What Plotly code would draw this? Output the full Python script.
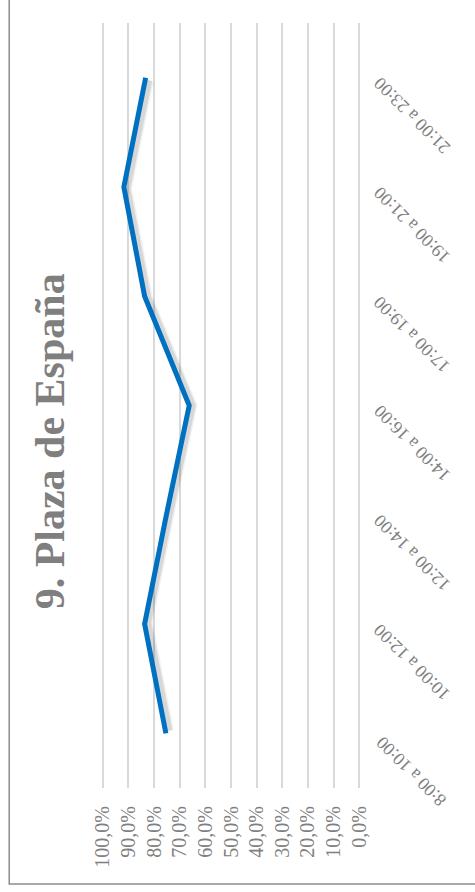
import plotly.graph_objects as go

categories = ["8:00 a 10:00", "10:00 a 12:00", "12:00 a 14:00", "14:00 a 16:00",
              "17:00 a 19:00", "19:00 a 21:00", "21:00 a 23:00"]
values = [75.4, 83.7, 75.2, 66.3, 83.7, 91.8, 83.3]
pct_ticks = [0, 10, 20, 30, 40, 50, 60, 70, 80, 90, 100]
pct_labels = [f"{v},0%" for v in pct_ticks]
title_text = "9. Plaza de España"

W, H = 475, 892
PAD = 1.5
pxu = 255.4 / 100
L, R, T, B = 103.3 - PAD * pxu, 116.3 - PAD * pxu, 23, 104
PW, PH = W - L - R, H - T - B
pxcat = PH / 7
FONT = "Liberation Serif, Times New Roman, serif"
OFF = 3  # shadow offset px
SX, SY = OFF / PW, OFF / PH

fig = go.Figure()
# soft shadow (shifted invisible axes)
for w, a in [(10, 0.06), (7, 0.10)]:
    fig.add_trace(go.Scatter(
        x=values, y=categories, mode="lines", xaxis="x2", yaxis="y2",
        line=dict(color=f"rgba(0,0,0,{a})", width=w), hoverinfo="skip", showlegend=False,
    ))
# main line on top layer
fig.add_trace(go.Scatter(
    x=values, y=categories, mode="lines", xaxis="x3", yaxis="y3",
    line=dict(color="#0070C0", width=5), hoverinfo="skip", showlegend=False,
))

annotations = [dict(
    text=f"<b>{title_text}</b>", xref="paper", yref="paper",
    x=(51 - L) / PW, y=1 - (441 - T) / PH,
    xanchor="center", yanchor="middle", textangle=-90, showarrow=False,
    font=dict(size=42, color="#7f7f7f", family=FONT),
)]
for c in categories:
    annotations.append(dict(
        text=c, xref="paper", yref="y", x=(411 - L) / PW, y=c, yshift=-38,
        xanchor="center", yanchor="middle", textangle=-135, showarrow=False,
        font=dict(size=18, color="#808080", family=FONT),
    ))

cat_axis = dict(type="category", categoryorder="array", categoryarray=categories)

fig.update_layout(
    width=W, height=H,
    margin=dict(l=L, r=R, t=T, b=B, pad=0, autoexpand=False),
    paper_bgcolor="white", plot_bgcolor="rgba(0,0,0,0)",
    font=dict(family=FONT, color="#808080"),
    xaxis=dict(
        range=[100 + PAD, -PAD], tickvals=pct_ticks, ticktext=pct_labels,
        tickangle=-90, showgrid=True, gridcolor="#d9d9d9", gridwidth=1.5,
        zeroline=False, showline=False, ticks="", automargin=False,
        tickfont=dict(size=20, color="#808080"), ticklabelstandoff=13,
    ),
    yaxis=dict(
        **cat_axis, range=[-0.5, 6.5], side="right", showgrid=False, zeroline=False,
        showline=False, ticks="", showticklabels=False, automargin=False,
    ),
    xaxis2=dict(range=[100 + PAD, -PAD + OFF / pxu], domain=[SX, 1], anchor="y2",
                visible=False, showgrid=False),
    yaxis2=dict(**cat_axis, range=[-0.5 - OFF / pxcat, 6.5], domain=[0, 1 - SY],
                anchor="x2", visible=False, showgrid=False),
    xaxis3=dict(range=[100 + PAD, -PAD], domain=[0, 1], anchor="y3",
                visible=False, showgrid=False),
    yaxis3=dict(**cat_axis, range=[-0.5, 6.5], domain=[0, 1], anchor="x3",
                visible=False, showgrid=False),
    annotations=annotations,
    shapes=[dict(type="rect", xref="paper", yref="paper",
                 x0=(10 - L) / PW, x1=(W + 5 - L) / PW,
                 y0=1 - (884 - T) / PH, y1=1 + 30 / PH,
                 line=dict(color="#8c8c8c", width=1.5), layer="below")],
)

fig.write_html("out.html", config={"displayModeBar": False},
               post_script="document.body.style.margin='0';document.body.style.overflow='hidden';")
